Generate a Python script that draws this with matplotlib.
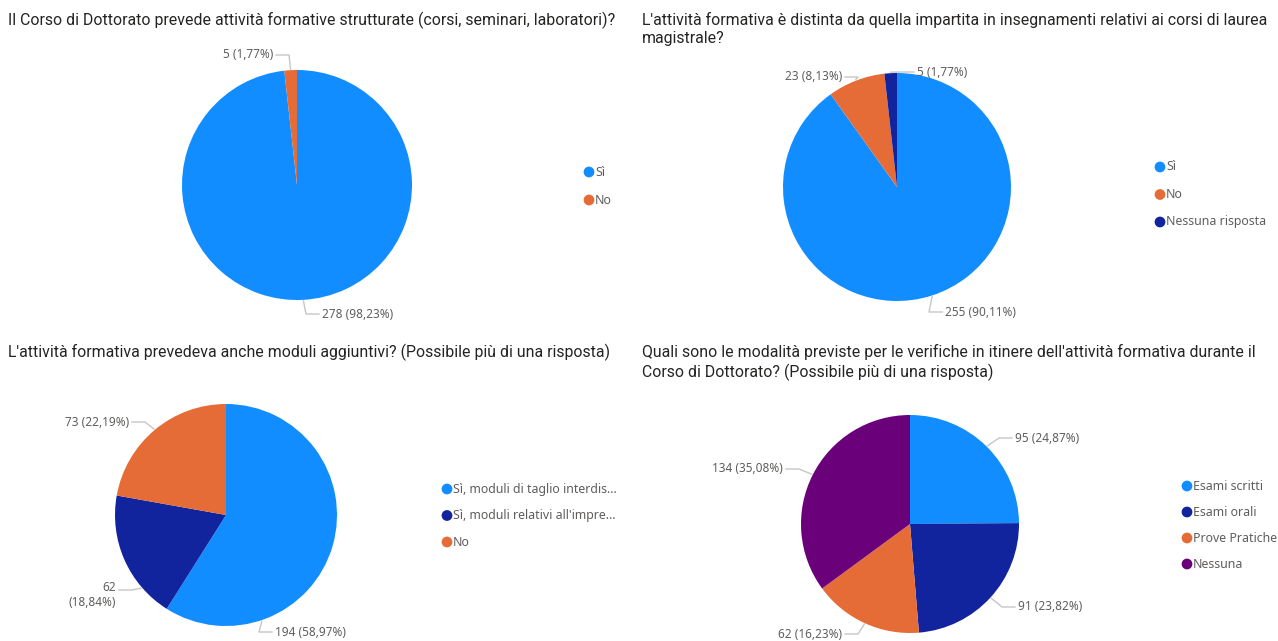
import numpy as np
import matplotlib
matplotlib.use('Agg')
import matplotlib.pyplot as plt

W, H = 1278, 641

BLUE = '#118DFF'
NAVY = '#12239E'
ORANGE = '#E66C37'
PURPLE = '#6B007B'

# --- data ---
q1_title = "Il Corso di Dottorato prevede attività formative strutturate (corsi, seminari, laboratori)?"
q1_labels = ['Sì', 'No']
q1_values = [278, 5]

q2_title = ("L'attività formativa è distinta da quella impartita in insegnamenti relativi ai corsi di laurea\n"
            "magistrale?")
q2_labels = ['Sì', 'No', 'Nessuna risposta']
q2_values = [255, 23, 5]

q3_title = "L'attività formativa prevedeva anche moduli aggiuntivi? (Possibile più di una risposta)"
q3_labels = ['Sì, moduli di taglio interdis...', "Sì, moduli relativi all'impre...", 'No']
q3_values = [194, 62, 73]

q4_title = ("Quali sono le modalità previste per le verifiche in itinere dell'attività formativa durante il\n"
            "Corso di Dottorato? (Possibile più di una risposta)")
q4_labels = ['Esami scritti', 'Esami orali', 'Prove Pratiche', 'Nessuna']
q4_values = [95, 91, 62, 134]

# --- layout (pixel coords, y from top) ---
# labels: (anchor fraction inside wedge, text x, text y, side, wrap)
lay1 = dict(title=(8, 12), center=(297, 185), radius=115, colors=[BLUE, ORANGE],
            legend=(589, 172, 28),
            labels=[(0.5, 322, 314, 'right', False), (0.5, 273, 55, 'left', False)])
lay2 = dict(title=(642, 12), center=(897, 187), radius=114, colors=[BLUE, ORANGE, NAVY],
            legend=(1160, 167, 27.5),
            labels=[(0.5, 945, 312, 'right', False), (0.5, 842, 77, 'left', False),
                    (0.5, 917, 72, 'right', False)])
lay3 = dict(title=(8, 344), center=(226, 515), radius=111, colors=[BLUE, NAVY, ORANGE],
            legend=(447, 489, 26.5),
            labels=[(0.76, 275, 632, 'right', False), (0.25, 116, 590, 'left', True),
                    (0.5, 129, 422, 'left', False)])
lay4 = dict(title=(642, 344), center=(910, 524), radius=109, colors=[BLUE, NAVY, ORANGE, PURPLE],
            legend=(1187, 486, 26),
            labels=[(0.5, 1015, 438, 'right', False), (0.5, 1018, 607, 'right', False),
                    (0.5, 842, 634, 'left', False), (0.5, 783, 469, 'left', False)])

TITLE_C = '#252423'
TEXT_C = '#605E5C'
LINE_C = '#C8C6C4'

fig = plt.figure(figsize=(W / 100, H / 100), dpi=100)
ax = fig.add_axes([0, 0, 1, 1])


def draw(title, labels, values, lay):
    tx, ty = lay['title']
    ax.text(tx, H - ty, title, ha='left', va='top', fontsize=11.4, color=TITLE_C,
            family='Roboto', linespacing=1.28)
    cx, cy = lay['center']
    r = lay['radius']
    wedges, _ = ax.pie(values, colors=lay['colors'], startangle=90, counterclock=False,
                       center=(cx, H - cy), radius=r, wedgeprops=dict(linewidth=0))
    total = sum(values)
    for w, v, (frac, lx, ly, side, wrap) in zip(wedges, values, lay['labels']):
        ang = np.deg2rad(w.theta2 - frac * (w.theta2 - w.theta1))
        x0 = cx + (r + 1) * np.cos(ang)
        y0 = cy - (r + 1) * np.sin(ang)
        d = 1 if side == 'right' else -1
        x2 = lx - d * 3
        x1 = x2 - d * 13
        ax.plot([x0, x1, x2], [H - y0, H - ly, H - ly], color=LINE_C, lw=1)
        txt = f"{v} ({100 * v / total:.2f}%)".replace('.', ',')
        ha = 'left' if side == 'right' else 'right'
        if wrap:
            txt = txt.replace(' ', '\n', 1)
            ax.text(lx, H - ly + 9, txt, ha=ha, va='top', fontsize=8.5, color=TEXT_C,
                    family='Noto Sans', linespacing=1.25)
        else:
            ax.text(lx, H - ly, txt, ha=ha, va='center', fontsize=8.5, color=TEXT_C,
                    family='Noto Sans')
    lx0, ly0, step = lay['legend']
    for i, (lab, col) in enumerate(zip(labels, lay['colors'])):
        yy = H - (ly0 + i * step)
        ax.scatter([lx0], [yy], s=60, color=col, edgecolors='none')
        ax.text(lx0 + 6, yy, lab, ha='left', va='center', fontsize=8.9, color=TEXT_C,
                family='Noto Sans')


draw(q1_title, q1_labels, q1_values, lay1)
draw(q2_title, q2_labels, q2_values, lay2)
draw(q3_title, q3_labels, q3_values, lay3)
draw(q4_title, q4_labels, q4_values, lay4)

ax.set_xlim(0, W)
ax.set_ylim(0, H)
ax.set_aspect('auto')
ax.axis('off')

fig.savefig('out.png', dpi=100)
